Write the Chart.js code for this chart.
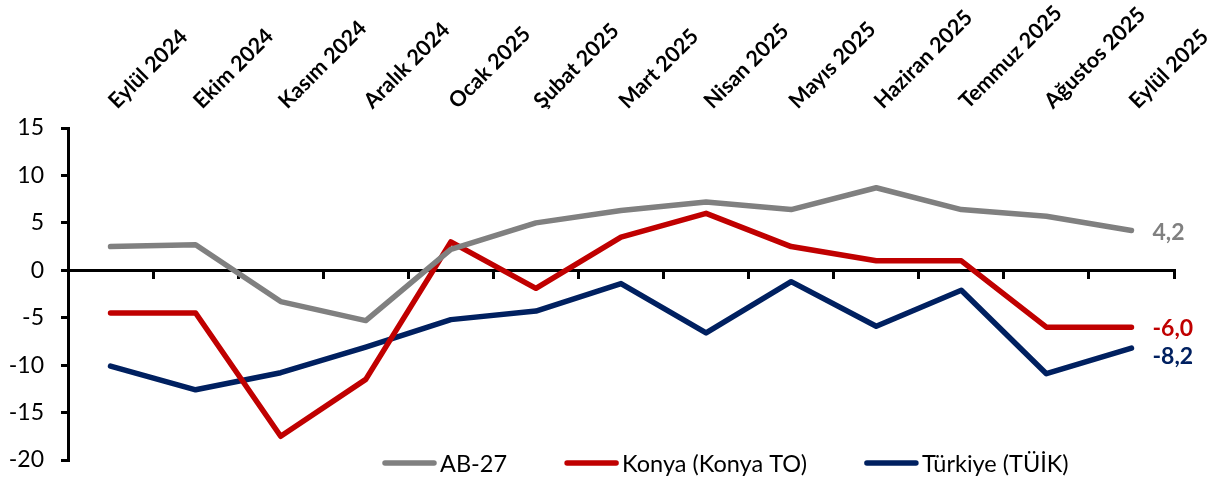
<!DOCTYPE html>
<html><head><meta charset="utf-8">
<script src="https://cdn.jsdelivr.net/npm/chart.js@4.4.1/dist/chart.umd.min.js"></script>
<style>html,body{margin:0;padding:0;background:#fff}#wrap{width:1214px;height:481px;position:relative}</style>
</head><body><div id="wrap"><canvas id="c"></canvas></div>
<script>
const categories = ["Eylül 2024","Ekim 2024","Kasım 2024","Aralık 2024","Ocak 2025","Şubat 2025","Mart 2025","Nisan 2025","Mayıs 2025","Haziran 2025","Temmuz 2025","Ağustos 2025","Eylül 2025"];
const seriesNames = ["AB-27","Konya (Konya TO)","Türkiye (TÜİK)"];
const ab27    = [2.5, 2.7, -3.3, -5.3, 2.2, 5.0, 6.3, 7.2, 6.4, 8.7, 6.4, 5.7, 4.2];
const konya   = [-4.5, -4.5, -17.5, -11.5, 3.0, -1.9, 3.5, 6.0, 2.5, 1.0, 1.0, -6.0, -6.0];
const turkiye = [-10.1, -12.6, -10.8, -8.1, -5.2, -4.3, -1.4, -6.6, -1.2, -5.9, -2.1, -10.9, -8.2];
const yTicks  = [-20, -15, -10, -5, 0, 5, 10, 15];

const colors = ['#808080', '#C00000', '#002060'];
const endLabelDy = [2, 1, 9];

const endLabels = {
  id: 'endLabels',
  afterDatasetsDraw(chart) {
    const ctx = chart.ctx;
    ctx.save();
    ctx.font = 'bold 23px Lato';
    ctx.textAlign = 'left';
    ctx.textBaseline = 'middle';
    chart.data.datasets.forEach((ds, i) => {
      const meta = chart.getDatasetMeta(i);
      const last = meta.data[meta.data.length - 1];
      const v = ds.data[ds.data.length - 1];
      ctx.fillStyle = ds.borderColor;
      ctx.fillText(v.toFixed(1).replace('.', ','), last.x + 21, last.y + endLabelDy[i]);
    });
    ctx.restore();
  }
};

const customLegend = {
  id: 'customLegend',
  afterDraw(chart) {
    const ctx = chart.ctx;
    ctx.save();
    ctx.font = '23.5px Lato';
    ctx.textBaseline = 'middle';
    ctx.textAlign = 'left';
    let x = 382;
    const y = 463;
    chart.data.datasets.forEach(ds => {
      ctx.strokeStyle = ds.borderColor;
      ctx.lineWidth = 5.5;
      ctx.lineCap = 'round';
      ctx.beginPath();
      ctx.moveTo(x + 3, y);
      ctx.lineTo(x + 52, y);
      ctx.stroke();
      ctx.fillStyle = '#000';
      ctx.fillText(ds.label, x + 58, y + 1);
      x += 58 + ctx.measureText(ds.label).width + 57;
    });
    ctx.restore();
  }
};

const mk = (label, data, color) => ({
  label, data, borderColor: color, backgroundColor: color,
  borderWidth: 5.5, pointRadius: 0, tension: 0,
  borderJoinStyle: 'round', borderCapStyle: 'round', xAxisID: 'x', yAxisID: 'y'
});

new Chart(document.getElementById('c'), {
  type: 'line',
  data: {
    labels: categories,
    datasets: [
      mk(seriesNames[0], ab27, colors[0]),
      mk(seriesNames[1], konya, colors[1]),
      mk(seriesNames[2], turkiye, colors[2])
    ]
  },
  options: {
    responsive: true,
    maintainAspectRatio: false,
    animation: false,
    devicePixelRatio: 1,
    layout: { padding: { left: 0, right: 40, top: 0, bottom: 21 } },
    plugins: { legend: { display: false }, tooltip: { enabled: false } },
    scales: {
      x: {
        type: 'category',
        position: 'top',
        offset: true,
        grid: { display: false },
        border: { display: false },
        ticks: {
          autoSkip: false, minRotation: 45, maxRotation: 45, padding: 6, labelOffset: 20,
          color: '#000', font: { family: 'Lato', weight: 'bold', size: 21.5 }
        },
        afterFit(s) { s.height = 128; }
      },
      x0: {
        type: 'category',
        position: { y: 0 },
        offset: true,
        grid: { display: true, drawOnChartArea: false, drawTicks: true, tickLength: 7, color: '#000', lineWidth: 3, offset: true },
        border: { display: true, color: '#000', width: 3 },
        ticks: { display: false },
        afterFit(s) { s.height = 0; }
      },
      y: {
        min: -20, max: 15,
        grid: { display: true, drawOnChartArea: false, drawTicks: true, tickLength: 7, color: '#000', lineWidth: 3 },
        border: { display: true, color: '#000', width: 3 },
        afterBuildTicks(s) { s.ticks = yTicks.map(v => ({ value: v })); },
        ticks: { padding: 17, color: '#000', font: { family: 'Lato', size: 23 } },
        afterFit(s) { s.width = 68; s.paddingTop = 0; s.paddingBottom = 0; }
      }
    }
  },
  plugins: [endLabels, customLegend]
});
</script>
</body></html>
